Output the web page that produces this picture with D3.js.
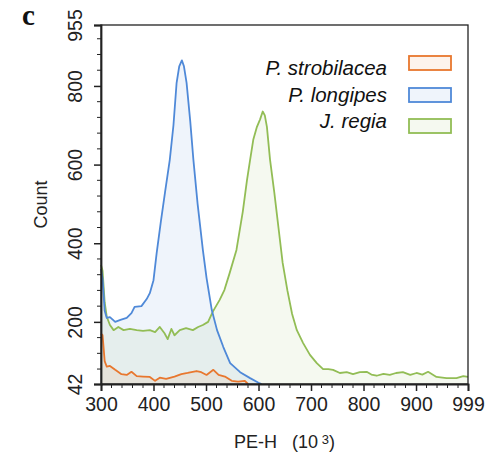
<!DOCTYPE html>
<html>
<head>
<meta charset="utf-8">
<script src="https://cdn.jsdelivr.net/npm/d3@7"></script>
<style>
  body { margin: 0; background: #fff; }
  text { font-family: "Liberation Sans", Arial, sans-serif; fill: #222; }
</style>
</head>
<body>
<svg id="chart" width="491" height="463"></svg>
<script>
// values: [PE-H (10^3), count]
var strobilacea = [[300,170],[303,166],[307,100],[311,86],[317,88],[327,78],[339,67],[349,65],[358,73],[368,62],[380,61],
  [393,60],[403,50],[412,58],[424,55],[440,61],[453,67],[465,70],[482,75],[491,72],[501,65],[514,78],[524,65],[536,61],
  [549,50],[561,48],[574,50],[580,42]];
var longipes = [[300,335],[303,310],[307,228],[311,210],[317,212],[327,200],[337,205],[349,210],[358,222],[364,238],
  [377,240],[387,258],[393,273],[400,306],[406,375],[414,455],[422,530],[431,612],[438,700],[444,808],[449,850],[454,865],
  [458,850],[463,808],[470,710],[476,612],[484,500],[494,383],[501,312],[511,230],[521,179],[533,136],[546,95],[565,72],
  [584,57],[600,45],[606,42]];
var regia = [[300,345],[303,330],[307,250],[311,213],[317,192],[324,179],[333,187],[343,179],[355,182],[368,179],[380,177],
  [393,179],[403,174],[412,187],[421,171],[427,156],[434,182],[440,166],[450,179],[462,184],[475,179],[485,187],[494,192],
  [504,200],[513,226],[526,256],[535,281],[545,324],[558,383],[570,480],[578,560],[584,612],[590,663],[597,696],[603,715],
  [608,735],[612,725],[616,696],[622,612],[630,530],[638,440],[646,350],[655,280],[664,220],[673,179],[685,146],[698,116],
  [711,95],[723,80],[733,80],[742,78],[755,70],[768,72],[780,67],[793,72],[806,73],[815,66],[825,63],[838,68],[850,65],
  [862,70],[875,72],[889,65],[901,70],[912,66],[923,73],[939,60],[958,57],[977,57],[990,62],[999,60]];

var seriesNames = ["P. strobilacea", "P. longipes", "J. regia"];
var seriesColors = ["#E8772E", "#4F89D8", "#92BD55"];
var xTicks = [300, 400, 500, 600, 700, 800, 900, 999];
var yTicks = [42, 200, 400, 600, 800, 955];

var margin = {top: 25, right: 23, bottom: 79, left: 101},
    width = 491 - margin.left - margin.right,
    height = 463 - margin.top - margin.bottom;

var svg = d3.select("#chart");
var g = svg.append("g")
    .attr("transform", "translate(" + margin.left + "," + margin.top + ")");

var x = d3.scaleLinear().domain([300, 999]).range([0, width]);
var y = d3.scaleLinear().domain([42, 955]).range([height, 0]);

// curves (green first so blue / orange sit on top)
var data = [strobilacea, longipes, regia];
var order = [2, 1, 0];

var area = d3.area()
    .x(function(d) { return x(d[0]); })
    .y0(y(42))
    .y1(function(d) { return y(d[1]); });
var line = d3.line()
    .x(function(d) { return x(d[0]); })
    .y(function(d) { return y(d[1]); });

order.forEach(function(i) {
  g.append("path")
      .attr("d", area(data[i]))
      .attr("fill", seriesColors[i])
      .attr("fill-opacity", 0.09);
});
order.forEach(function(i) {
  g.append("path")
      .attr("d", line(data[i]))
      .attr("fill", "none")
      .attr("stroke", seriesColors[i])
      .attr("stroke-width", 1.8)
      .attr("stroke-linejoin", "round");
});

// frame
g.append("rect")
    .attr("width", width)
    .attr("height", height)
    .attr("fill", "none")
    .attr("stroke", "#222")
    .attr("stroke-width", 1.3);

// x axis
var xMinor = d3.range(300, 999, 20).filter(function(v) { return v % 100 !== 0; });
var xAxis = g.append("g")
    .attr("class", "x-axis")
    .attr("transform", "translate(0," + height + ")");
xAxis.selectAll(".minor")
    .data(xMinor)
    .enter().append("line")
    .attr("x1", function(d) { return x(d); })
    .attr("x2", function(d) { return x(d); })
    .attr("y2", 4)
    .attr("stroke", "#222");
xAxis.call(d3.axisBottom(x).tickValues(xTicks).tickSize(7).tickPadding(6).tickFormat(d3.format("d")));
xAxis.select(".domain").attr("stroke-width", 1.8).attr("stroke", "#222");
xAxis.selectAll(".tick line").attr("stroke", "#222").attr("stroke-width", 1.5);
xAxis.selectAll(".tick text")
    .style("font-size", "19.5px")
    .style("font-family", "Liberation Sans, Arial, sans-serif")
    .attr("fill", "#1a1a1a");

// y axis
var yMinor = [80, 120, 160, 240, 280, 320, 360, 440, 480, 520, 560, 640, 680, 720, 760, 840, 880, 920];
var yAxis = g.append("g").attr("class", "y-axis");
yAxis.selectAll(".minor")
    .data(yMinor)
    .enter().append("line")
    .attr("y1", function(d) { return y(d); })
    .attr("y2", function(d) { return y(d); })
    .attr("x2", -4)
    .attr("stroke", "#222");
yAxis.call(d3.axisLeft(y).tickValues(yTicks).tickSize(7).tickFormat(d3.format("d")));
yAxis.select(".domain").attr("stroke-width", 1.8).attr("stroke", "#222");
yAxis.selectAll(".tick line").attr("stroke", "#222").attr("stroke-width", 1.5);
yAxis.selectAll(".tick text")
    .attr("x", null).attr("dy", null)
    .attr("transform", "translate(-19,0) rotate(-90)")
    .attr("text-anchor", "middle")
    .style("font-size", "19.5px")
    .style("font-family", "Liberation Sans, Arial, sans-serif")
    .attr("fill", "#1a1a1a");

// axis titles
svg.append("text")
    .attr("transform", "translate(47," + (margin.top + height / 2) + ") rotate(-90)")
    .attr("text-anchor", "middle")
    .style("font-size", "18px")
    .text("Count");

var xt = svg.append("text")
    .attr("x", margin.left + width / 2)
    .attr("y", 448)
    .attr("text-anchor", "middle")
    .style("font-size", "18px")
    .attr("xml:space", "preserve");
xt.append("tspan").text("PE-H   (10");
xt.append("tspan").attr("dy", -4).style("font-size", "13px").text(" 3");
xt.append("tspan").attr("dy", 4).text(")");

// panel letter
svg.append("text")
    .attr("x", 22)
    .attr("y", 25)
    .style("font-family", "Liberation Serif, Times New Roman, serif")
    .style("font-weight", "bold")
    .style("font-size", "29px")
    .style("fill", "#111")
    .text("c");

// legend
var legend = svg.append("g").attr("class", "legend");
var legendTextY = [75, 102, 128];
var legendBoxY = [63, 95, 126];
seriesNames.forEach(function(name, i) {
  legend.append("text")
      .attr("x", 387)
      .attr("y", legendTextY[i])
      .attr("text-anchor", "end")
      .style("font-size", "20.5px")
      .style("font-style", "italic")
      .style("fill", "#111")
      .text(name);
  legend.append("rect")
      .attr("x", 409)
      .attr("y", legendBoxY[i] - 7)
      .attr("width", 42)
      .attr("height", 14)
      .attr("fill", seriesColors[i])
      .attr("fill-opacity", 0.09)
      .attr("stroke", seriesColors[i])
      .attr("stroke-width", 1.8);
});
</script>
</body>
</html>
